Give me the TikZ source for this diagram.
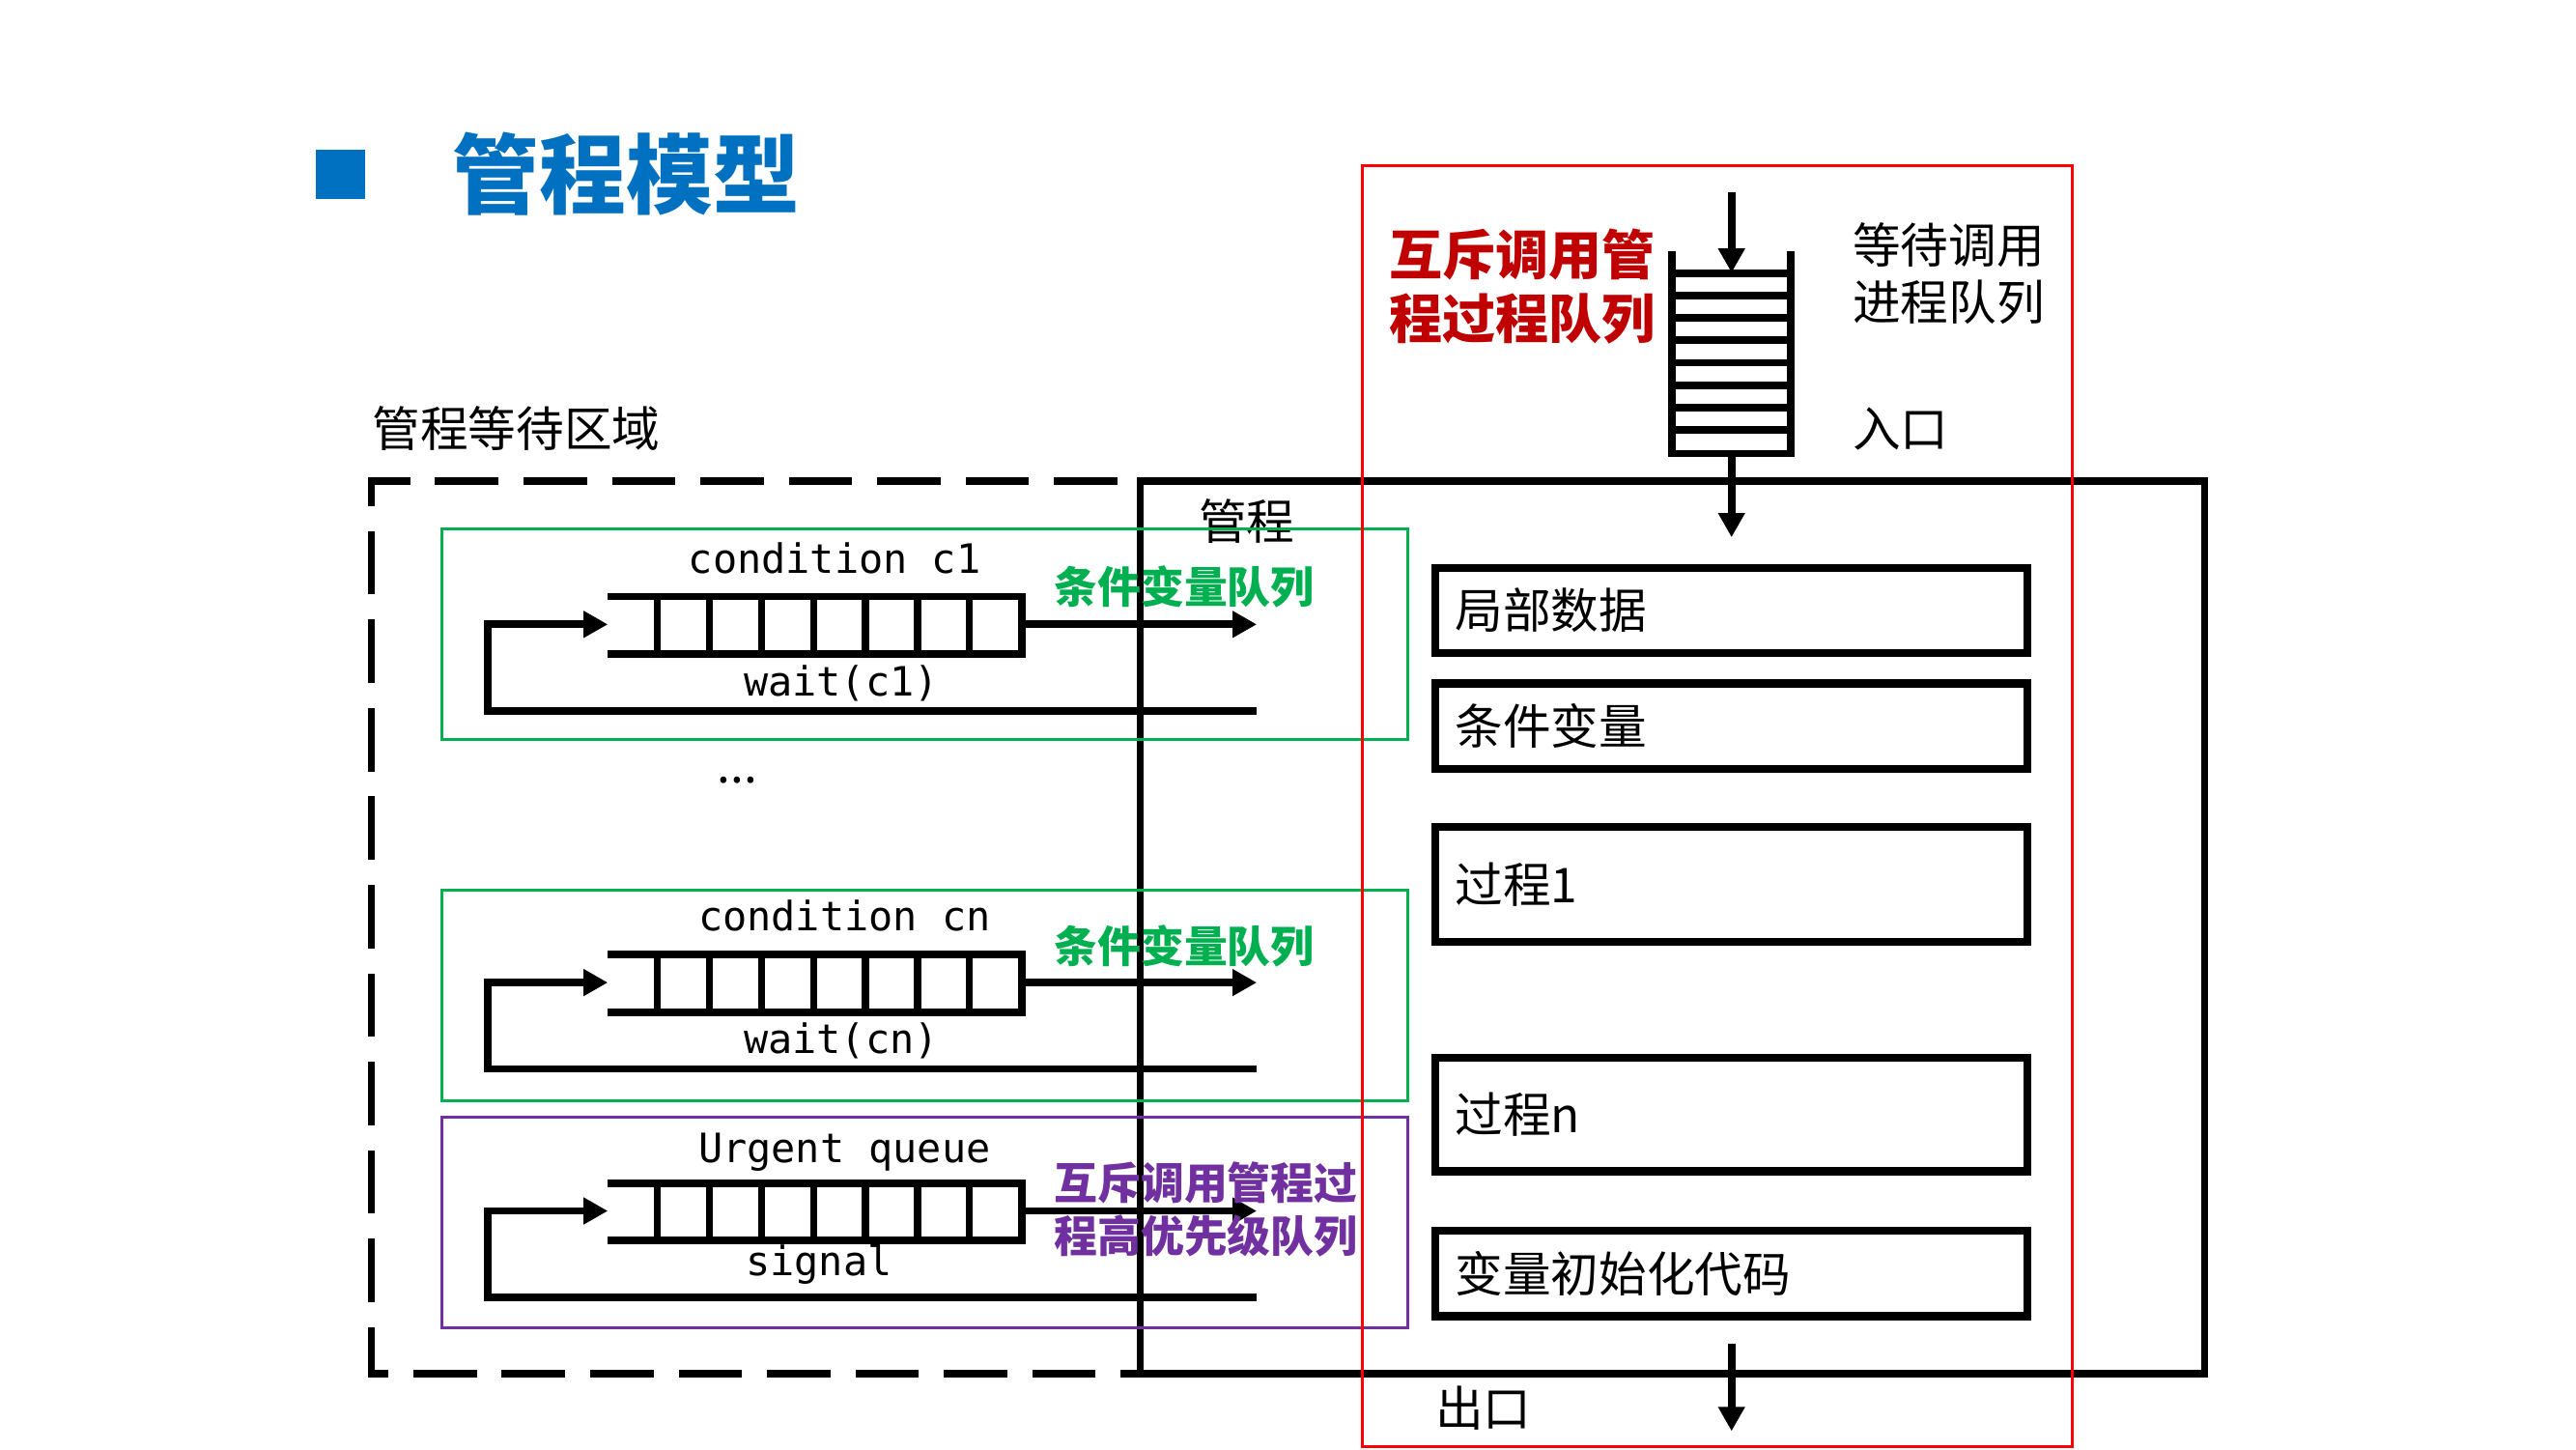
\documentclass[tikz,border=0pt]{standalone}
\usepackage{fontspec}
\usetikzlibrary{arrows.meta}
\newfontfamily\cjk{Noto Sans CJK SC}
\newfontfamily\qfont{DejaVu Sans Mono}
\definecolor{titleblue}{HTML}{0070C0}
\definecolor{cvgreen}{HTML}{00B050}
\definecolor{urgpurple}{HTML}{7030A0}
\definecolor{mutexred}{HTML}{C00000}

\tikzset{
  txt/.style={inner sep=0pt, font=\fontsize{8.3}{9.9}\selectfont\cjk},
  qtxt/.style={inner sep=0pt, font=\fontsize{7}{8}\selectfont\qfont},
  heavy/.style={line width=1.3pt},
  slot/.style={line width=1.2pt},
  qarrow/.style={line width=1.3pt, -{Triangle[length=4.2pt,width=4.4pt]}},
  thinbox/.style={line width=0.5pt},
  membox/.style={draw, line width=1.4pt, minimum width=3.6cm, text width=3.36cm,
                 inner xsep=0.12cm, align=left, font=\fontsize{8.3}{9.9}\selectfont\cjk},
}

\begin{document}
\begin{tikzpicture}[x=0.01cm, y=-0.01cm]
\useasboundingbox (0,0) rectangle (1568,882);

% Title
\fill[titleblue] (192,91) rectangle (222,121);
\node[txt, anchor=west, font=\fontsize{15}{18}\selectfont\cjk\bfseries, text=titleblue] (title) at (275,106) {管程模型};

% Waiting area
\node[txt, anchor=west] (waitarea) at (226,261) {管程等待区域};
\draw[heavy, dash pattern=on 0.386cm off 0.152cm, dash phase=0.268cm]
  (694,836) -- (226,836) -- (226,293) -- (694,293);

% Monitor
\draw[heavy] (694,293) rectangle (1342,836);
\node[txt] (monitor) at (759,317.5) {管程};

% Queue frames
\draw[cvgreen, thinbox] (269,322) rectangle (857,450);
\draw[cvgreen, thinbox] (269,542) rectangle (857,670);
\draw[urgpurple, thinbox] (269,680) rectangle (857,808);

% Queues
\foreach \q/\qy in {c1/380, cn/598, ur/737} {
  \coordinate (\q-in) at (370,\qy);
  \coordinate (\q-out) at (622,\qy);
  \coordinate (\q-end) at (765,\qy);
  \coordinate (\q-back) at (765,\qy+52.5);
  \coordinate (\q-turn) at (297,\qy+52.5);
  \draw[heavy] (370,\qy-17) -- (622,\qy-17) -- (622,\qy+18) -- (370,\qy+18);
  \foreach \k in {0,...,6}
    \draw[slot] (400+31.7*\k,\qy-17) -- (400+31.7*\k,\qy+18);
  \draw[qarrow] (\q-out) -- (\q-end);
  \draw[qarrow] (\q-back) -- (\q-turn) |- (\q-in);
}

\node[qtxt] (cond1) at (508,340) {condition c1};
\node[qtxt] (wait1) at (512,415.6) {wait(c1)};
\node[txt] (dots) at (449,475) {...};
\node[qtxt] (condn) at (514,557) {condition cn};
\node[qtxt] (waitn) at (512,633.5) {wait(cn)};
\node[qtxt] (urgent) at (514,701) {Urgent queue};
\node[qtxt] (signal) at (498.5,769.5) {signal};

% Queue labels
\node[txt, anchor=west, font=\fontsize{7.5}{9}\selectfont\cjk\bfseries, text=cvgreen] (cvq1) at (641,357) {条件变量队列};
\node[txt, anchor=west, font=\fontsize{7.5}{9}\selectfont\cjk\bfseries, text=cvgreen] (cvqn) at (641,576) {条件变量队列};
\node[txt, anchor=west, align=left, font=\fontsize{7.5}{9.1}\selectfont\cjk\bfseries, text=urgpurple] (urgq) at (641,736) {互斥调用管程过\\程高优先级队列};

% Entry queue
\node[txt, anchor=west, align=left, font=\fontsize{9.2}{11.1}\selectfont\cjk\bfseries, text=mutexred] (entryq) at (845,174.4) {互斥调用管\\程过程队列};
\node[txt, anchor=west, align=left] (waitproc) at (1127,166.5) {等待调用\\进程队列};
\node[txt, anchor=west] (entry) at (1127,261) {入口};

\draw[heavy] (1017.6,153) -- (1017.6,276) -- (1089.8,276) -- (1089.8,153);
\foreach \k in {0,...,7}
  \draw[heavy] (1017.6,166.2+13.65*\k) -- (1089.8,166.2+13.65*\k);
\coordinate (entrytop) at (1054,117);
\coordinate (entryin) at (1054,166);
\coordinate (stackout) at (1054,276);
\coordinate (monin) at (1054,327);
\draw[qarrow] (entrytop) -- (entryin);
\draw[qarrow] (stackout) -- (monin);

% Monitor parts
\node[membox, minimum height=0.52cm] (locdata) at (1053.8,371.6) {局部数据};
\node[membox, minimum height=0.52cm] (condvar) at (1053.8,442) {条件变量};
\node[membox, minimum height=0.70cm] (proc1) at (1053.8,538.3) {过程1};
\node[membox, minimum height=0.69cm] (procn) at (1053.8,678.3) {过程n};
\node[membox, minimum height=0.52cm] (initcode) at (1053.8,775) {变量初始化代码};

% Exit
\coordinate (exitfrom) at (1054,818);
\coordinate (exitto) at (1054,871);
\draw[qarrow] (exitfrom) -- (exitto);
\node[txt, anchor=west] (exit) at (873,857) {出口};

% Mutex region
\draw[red, line width=0.5pt] (829.5,101) rectangle (1261.5,880.5);

\end{tikzpicture}
\end{document}
